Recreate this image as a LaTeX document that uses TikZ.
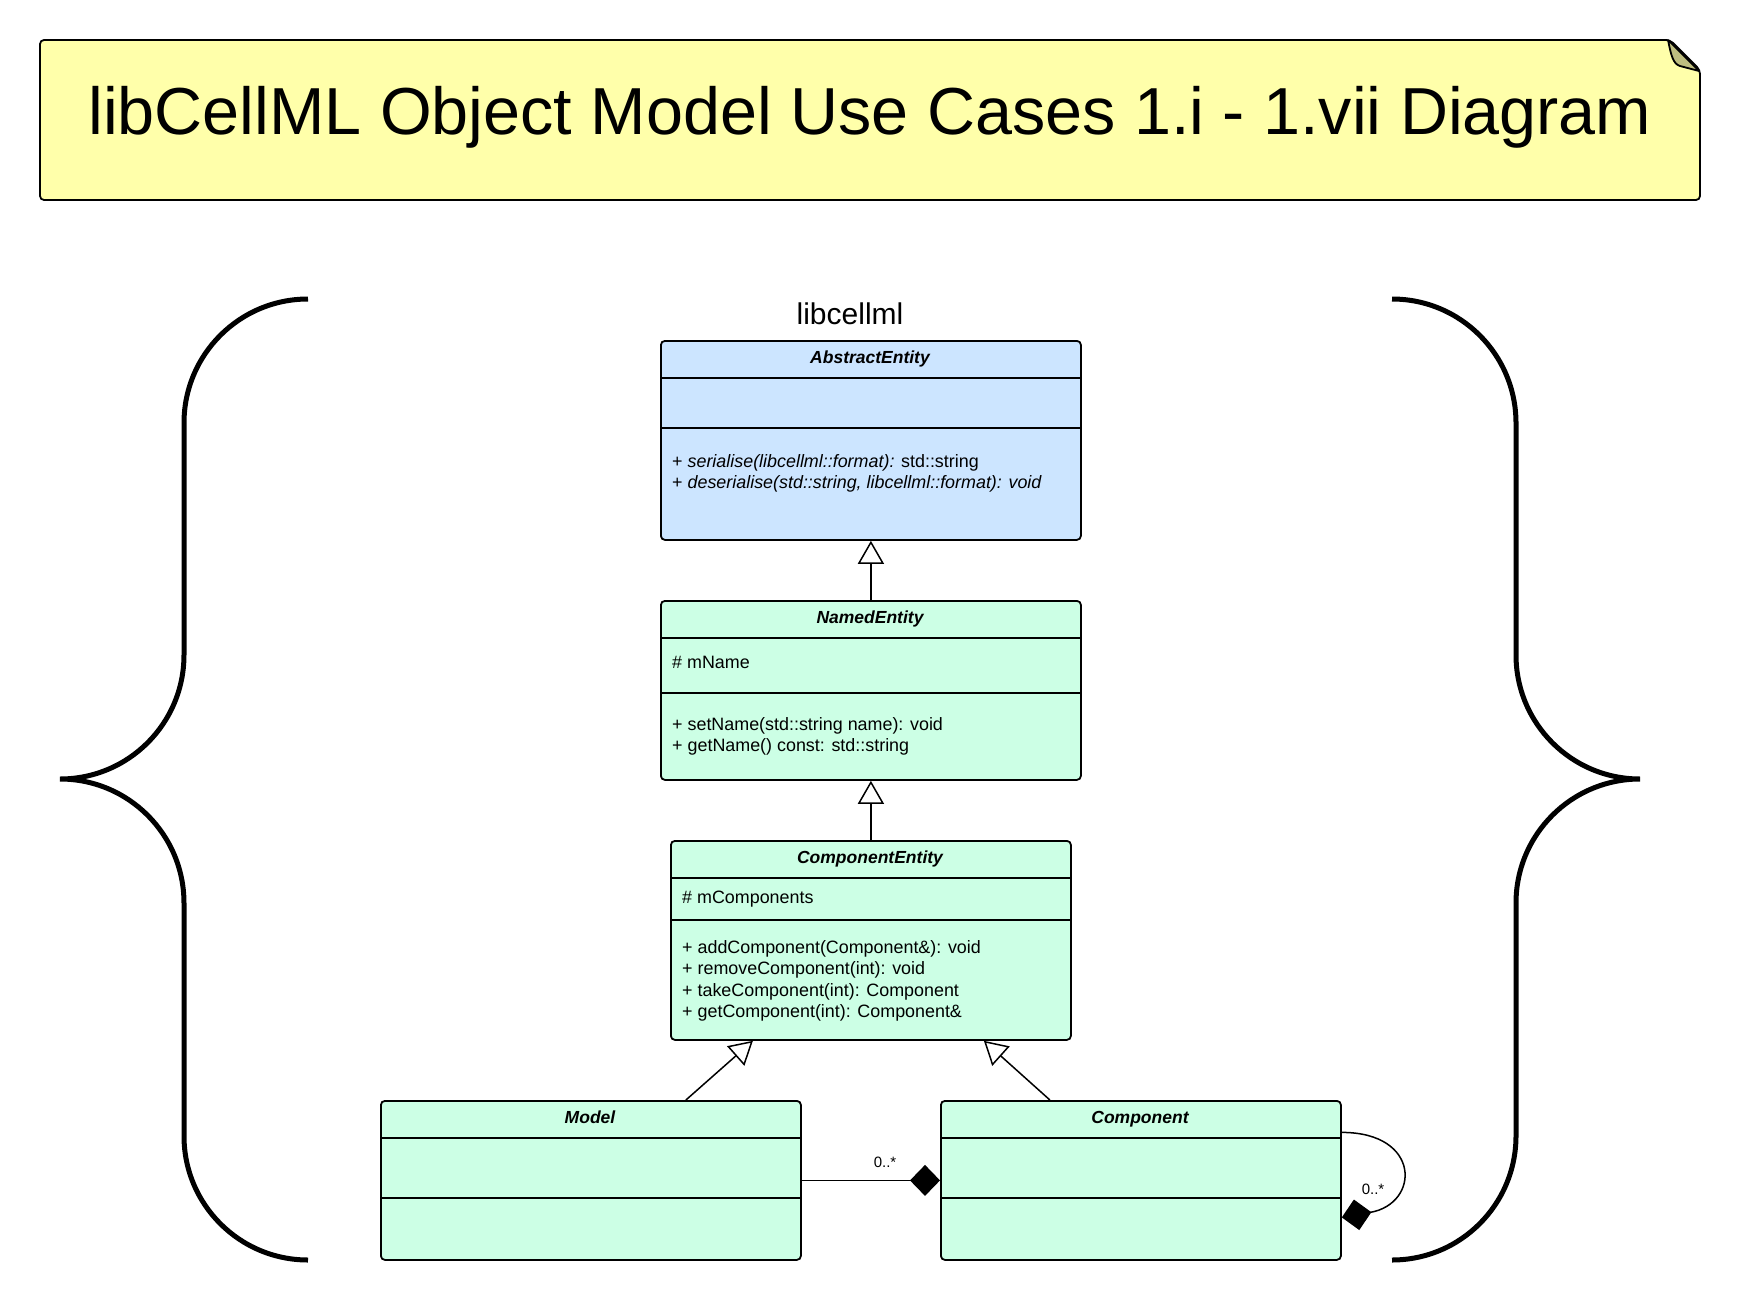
\documentclass[tikz,border=0pt]{standalone}
\usepackage{fontspec}
\setmainfont{Liberation Sans}
\usetikzlibrary{arrows.meta}

\definecolor{noteyellow}{RGB}{255,255,170}
\definecolor{notefold}{RGB}{190,190,128}
\definecolor{abstractblue}{RGB}{204,229,255}
\definecolor{classgreen}{RGB}{204,255,229}

\tikzstyle{class box}=[draw,line width=1.8pt,rounded corners=4pt,inner sep=0pt,anchor=north west]
\tikzstyle{class name}=[font=\fontsize{17.5}{21}\selectfont\bfseries\itshape,anchor=base,inner sep=0pt]
\tikzstyle{member}=[font=\fontsize{17.9}{21.5}\selectfont,align=left,anchor=north west,inner sep=0pt]
\tikzstyle{divider}=[draw,line width=1.8pt]
\tikzstyle{inherit edge}=[draw,line width=1.5pt,-{Triangle[open,length=23pt,width=26pt]}]
\tikzstyle{compose edge}=[draw,line width=1.5pt,-{Diamond[length=30pt,width=31pt]}]
\tikzstyle{multiplicity}=[font=\fontsize{15}{18}\selectfont,inner sep=0pt]
\tikzstyle{brace}=[draw,line width=5pt]

\begin{document}
\begin{tikzpicture}[x=1pt,y=-1pt]
	\path[use as bounding box] (0,0) rectangle (1740,1300);
	% Title note with its folded corner
	\draw[line width=1.8pt,fill=noteyellow,rounded corners=4pt] (40,40) -- (1670,40) -- (1700,70) -- (1700,200) -- (40,200) -- cycle;
	\draw[line width=1.8pt,fill=notefold,line join=round] (1668,40) -- (1699,71) -- (1680,66) .. controls (1673,64) and (1671,55) .. cycle;
	\node[font=\fontsize{66.5}{70}\selectfont,anchor=base,inner sep=0pt] (title) at (870,135) {libCellML Object Model Use Cases 1.i - 1.vii Diagram};
	\node[font=\fontsize{30}{36}\selectfont,anchor=base,inner sep=0pt] (pkg) at (850,324) {libcellml};
	% Class boxes
	\node[class box,fill=abstractblue,minimum width=420pt,minimum height=199pt] (abstract) at (660,340) {};
	\node[class box,fill=classgreen,minimum width=420pt,minimum height=179pt] (named) at (660,600) {};
	\node[class box,fill=classgreen,minimum width=400pt,minimum height=199pt] (compentity) at (670,840) {};
	\node[class box,fill=classgreen,minimum width=420pt,minimum height=159pt] (model) at (380,1100) {};
	\node[class box,fill=classgreen,minimum width=400pt,minimum height=159pt] (component) at (940,1100) {};
	% Compartment lines
	\foreach \cls/\ya/\yb in {abstract/378/428, named/638/693, compentity/878/920, model/1138/1198, component/1138/1198}
		\path[divider] (\cls.west |- 0,\ya) -- (\cls.east |- 0,\ya) (\cls.west |- 0,\yb) -- (\cls.east |- 0,\yb);
	% Class names and members
	\node[class name] (abstract-name) at (870,363) {AbstractEntity};
	\node[class name] (named-name) at (870,623) {NamedEntity};
	\node[class name] (compentity-name) at (870,863) {ComponentEntity};
	\node[class name] (model-name) at (590,1123) {Model};
	\node[class name] (component-name) at (1140,1123) {Component};
	\node[member] (abstract-ops) at (672,454) {+ \textit{serialise(libcellml::format):} std::string\\+ \textit{deserialise(std::string, libcellml::format): void}};
	\node[member] (named-attr) at (672,656) {\# mName};
	\node[member] (named-ops) at (672,717) {+ setName(std::string name): void\\+ getName() const: std::string};
	\node[member] (compentity-attr) at (682,891) {\# mComponents};
	\node[member] (compentity-ops) at (682,940) {+ addComponent(Component\&): void\\+ removeComponent(int): void\\+ takeComponent(int): Component\\+ getComponent(int): Component\&};
	% Generalisations
	\foreach \source/\dest in {named/abstract, compentity/named}
		\path[inherit edge] (\source) to (\dest);
	\path[inherit edge] ([xshift=95pt]model.north) -- ([xshift=-118pt]compentity.south);
	\path[inherit edge] ([xshift=-91pt]component.north) -- ([xshift=113pt]compentity.south);
	% Compositions
	\path[compose edge] (model) -- (component);
	\node[multiplicity] (mult-model) at (885,1162) {0..*};
	\path[compose edge] ([yshift=48pt]component.east) to[out=0,in=10,looseness=2.4] ([yshift=-37pt]component.east);
	\node[multiplicity] (mult-component) at (1373,1189) {0..*};
	% Braces
	\path[brace] (308,299) arc[start angle=90,end angle=180,radius=124pt] -- (184,655) arc[start angle=0,end angle=-90,radius=124pt] arc[start angle=90,end angle=0,radius=124pt] -- (184,1136) arc[start angle=180,end angle=270,radius=124pt];
	\path[brace] (1392,299) arc[start angle=90,end angle=0,radius=124pt] -- (1516,655) arc[start angle=180,end angle=270,radius=124pt] arc[start angle=90,end angle=180,radius=124pt] -- (1516,1136) arc[start angle=0,end angle=-90,radius=124pt];
\end{tikzpicture}
\end{document}
